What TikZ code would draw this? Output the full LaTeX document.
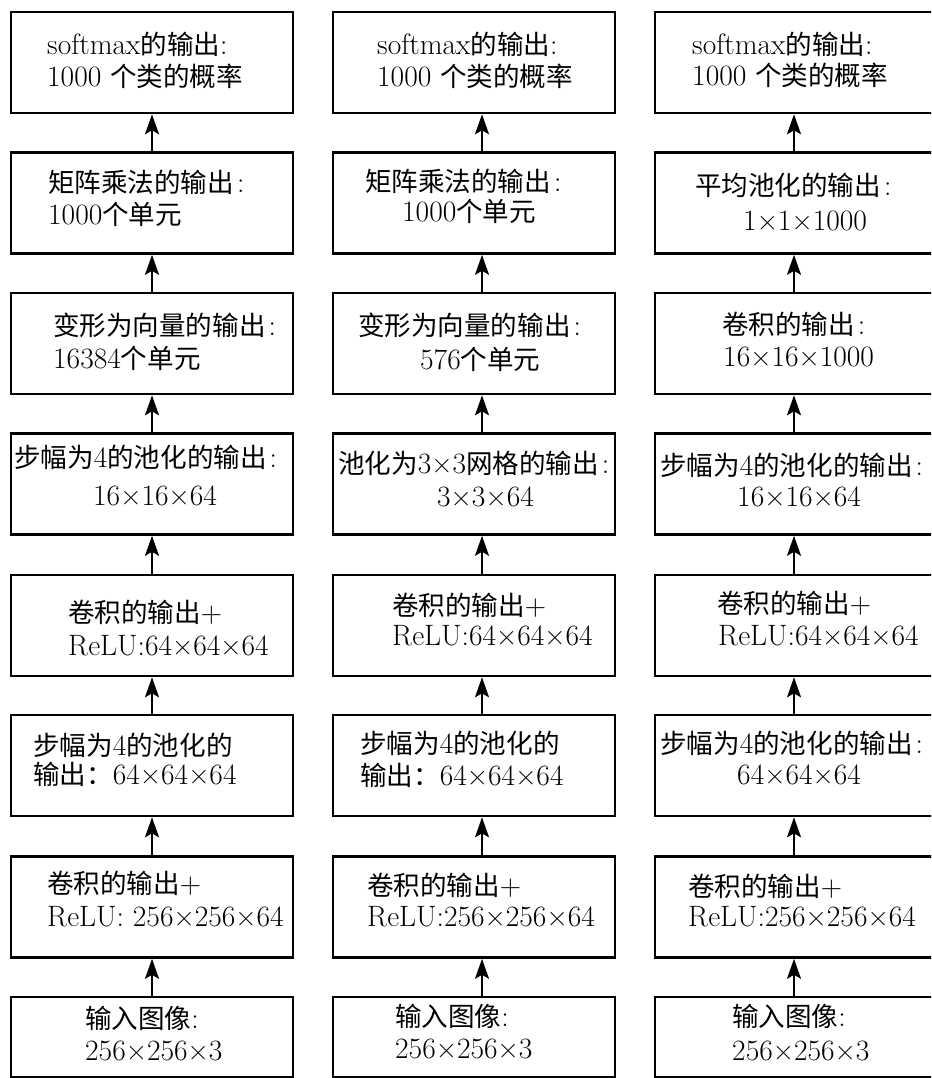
\documentclass[tikz,border=0pt]{standalone}
\usepackage{fontspec}
\newfontfamily\cjkf{Noto Sans CJK SC}[Scale=0.9]
\newcommand\zh[1]{{\cjkf #1}}
\newcommand\colonx{\hspace{3pt}:}
\usetikzlibrary{arrows.meta}
\begin{document}
\begin{tikzpicture}[x=1pt,y=-1pt,
  box/.style={draw,line width=2.6pt,minimum width=282pt,minimum height=101pt,inner sep=0pt},
  lastbox/.style={box,minimum height=80pt},
  txt/.style={anchor=west,inner sep=0pt,text height=0.75em,text depth=0.15em,font=\fontsize{29.5}{32}\selectfont},
  arr/.style={line width=2pt,-{Stealth[length=20pt,width=14pt,inset=4pt]}}]
\useasboundingbox (0,0) rectangle (931,1078);
\clip (0,0) rectangle (931,1078);
\fill[white] (0,0) rectangle (931,1078);
% ---------- boxes ----------
\foreach \c/\x in {1/152,2/474,3/796}{
  \node[box] (b\c1) at (\x,62.5) {};
  \node[box] (b\c2) at (\x,203) {};
  \node[box] (b\c3) at (\x,343.5) {};
  \node[box] (b\c4) at (\x,484) {};
  \node[box] (b\c5) at (\x,625.5) {};
  \node[box] (b\c6) at (\x,765.5) {};
  \node[box] (b\c7) at (\x,907) {};
  \node[lastbox] (b\c8) at (\x,1037) {};
}
% ---------- arrows ----------
\foreach \r/\s in {2/1,3/2,4/3,5/4,6/5,7/6,8/7}{
  \draw[arr] (b1\r.north) -- (b1\s.south);
  \draw[arr] ([xshift=8pt]b2\r.north) -- ([xshift=8pt]b2\s.south);
  \draw[arr] ([xshift=-2pt]b3\r.north) -- ([xshift=-2pt]b3\s.south);
}
% ---------- column 1 ----------
\node[txt] (t11a) at (47,52) {softmax\zh{的输出}:};
\node[txt] (t11b) at (47,84) {1000 \zh{个类的概率}};
\node[txt] (t12a) at (48,190) {\zh{矩阵乘法的输出}\colonx};
\node[txt] (t12b) at (48,221) {1000\zh{个单元}};
\node[txt] (t13a) at (53,332) {\zh{变形为向量的输出}\colonx};
\node[txt] (t13b) at (53,365) {16384\zh{个单元}};
\node[txt] (t14a) at (14,464) {\zh{步幅为}4\zh{的池化的输出}\colonx};
\node[txt] (t14b) at (93,502) {16×16×64};
\node[txt] (t15a) at (68,619) {\zh{卷积的输出}+};
\node[txt] (t15b) at (68,652) {ReLU:64×64×64};
\node[txt] (t16a) at (33,752) {\zh{步幅为}4\zh{的池化的}};
\node[txt] (t16b) at (33,781) {\zh{输出：}64×64×64};
\node[txt] (t17a) at (47,890) {\zh{卷积的输出}+};
\node[txt] (t17b) at (47,923) {ReLU: 256×256×64};
\node[txt] (t18a) at (85,1025) {\zh{输入图像}:};
\node[txt] (t18b) at (85,1057) {256×256×3};
% ---------- column 2 ----------
\node[txt] (t21a) at (377,52) {softmax\zh{的输出}:};
\node[txt] (t21b) at (377,84) {1000 \zh{个类的概率}};
\node[txt] (t22a) at (365,188) {\zh{矩阵乘法的输出}\colonx};
\node[txt] (t22b) at (402,219) {1000\zh{个单元}};
\node[txt] (t23a) at (358,332) {\zh{变形为向量的输出}\colonx};
\node[txt] (t23b) at (420,366) {576\zh{个单元}};
\node[txt] (t24a) at (338,470) {\zh{池化为}3×3\zh{网格的输出}\colonx};
\node[txt] (t24b) at (437,503) {3×3×64};
\node[txt] (t25a) at (392,612) {\zh{卷积的输出}+};
\node[txt] (t25b) at (392,642) {ReLU:64×64×64};
\node[txt] (t26a) at (360,750) {\zh{步幅为}4\zh{的池化的}};
\node[txt] (t26b) at (360,782) {\zh{输出：}64×64×64};
\node[txt] (t27a) at (367,892) {\zh{卷积的输出}+};
\node[txt] (t27b) at (367,923) {ReLU:256×256×64};
\node[txt] (t28a) at (395,1023) {\zh{输入图像}:};
\node[txt] (t28b) at (395,1055) {256×256×3};
% ---------- column 3 ----------
\node[txt] (t31a) at (692,52) {softmax\zh{的输出}:};
\node[txt] (t31b) at (692,83) {1000 \zh{个类的概率}};
\node[txt] (t32a) at (695,193) {\zh{平均池化的输出}\colonx};
\node[txt] (t32b) at (743,227) {1×1×1000};
\node[txt] (t33a) at (722,331) {\zh{卷积的输出}\colonx};
\node[txt] (t33b) at (723,363) {16×16×1000};
\node[txt] (t34a) at (660,472) {\zh{步幅为}4\zh{的池化的输出}\colonx};
\node[txt] (t34b) at (737,503) {16×16×64};
\node[txt] (t35a) at (717,610) {\zh{卷积的输出}+};
\node[txt] (t35b) at (718,642) {ReLU:64×64×64};
\node[txt] (t36a) at (660,750) {\zh{步幅为}4\zh{的池化的输出}\colonx};
\node[txt] (t36b) at (737,781) {64×64×64};
\node[txt] (t37a) at (688,893) {\zh{卷积的输出}+};
\node[txt] (t37b) at (688,923) {ReLU:256×256×64};
\node[txt] (t38a) at (732,1023) {\zh{输入图像}:};
\node[txt] (t38b) at (732,1057) {256×256×3};
\end{tikzpicture}
\end{document}
